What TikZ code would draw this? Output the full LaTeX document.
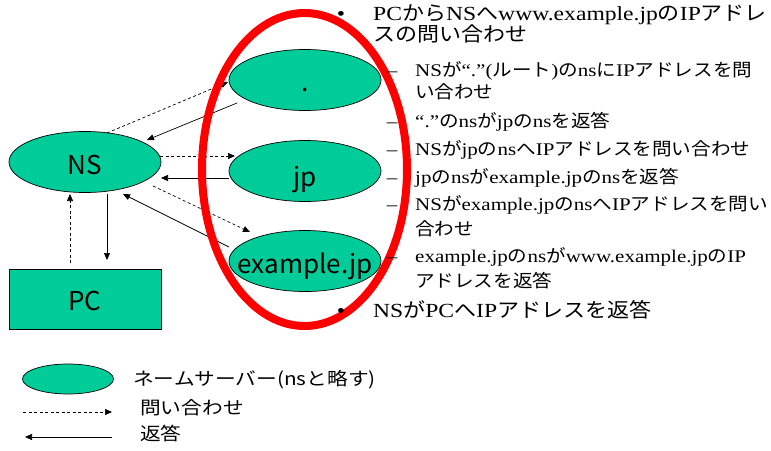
\documentclass[tikz,border=0pt]{standalone}
\usepackage{fontspec}
\setmainfont[FakeStretch=1.18]{Liberation Serif}
\newfontfamily\jpf[FakeStretch=1.1]{Noto Sans CJK JP}
\newfontfamily\lgf[FakeStretch=1.15]{Noto Sans CJK JP}
\newfontfamily\lblf{Noto Sans CJK JP}
\usetikzlibrary{arrows.meta,shapes.geometric}
\definecolor{nsgreen}{RGB}{0,204,153}
\newcommand\J[1]{{\jpf #1}}
\begin{document}
\begin{tikzpicture}[x=1pt,y=-1pt,
  srv/.style={ellipse, draw=black, line width=0.7pt, fill=nsgreen,
    minimum width=152pt, minimum height=61pt, inner sep=0pt},
  lbl/.style={anchor=base, inner sep=0pt, font=\lblf\fontsize{26}{30}\selectfont},
  ask/.style={draw, dash pattern=on 3pt off 2.5pt, line width=0.7pt,
    -{Triangle[length=7pt,width=6pt]}},
  ans/.style={draw, line width=0.7pt, -{Triangle[length=7pt,width=6pt]}},
  mainln/.style={anchor=base west, inner sep=0pt, text height=0.78em, text depth=0.1em,
    font=\fontsize{20}{24}\selectfont},
  subln/.style={anchor=base west, inner sep=0pt, text height=0.78em, text depth=0.1em,
    font=\fontsize{17.8}{21}\selectfont},
  bul/.style={anchor=base, inner sep=0pt, font=\fontsize{20}{24}\selectfont},
  dsh/.style={anchor=base, inner sep=0pt, font=\fontsize{17.8}{21}\selectfont},
  lgtxt/.style={anchor=base west, inner sep=0pt, font=\lgf\fontsize{18}{22}\selectfont}
]
\useasboundingbox (0,0) rectangle (771,450);

% servers
\node[srv] (ns) at (85,162) {};
\node[srv] (dot) at (305,80) {};
\node[srv] (jp) at (305,171) {};
\node[srv] (ex) at (305,261) {};
\node[draw=black, fill=nsgreen, line width=0.7pt, minimum width=152pt,
  minimum height=60pt, inner sep=0pt] (pc) at (85,299) {};

% connectors
\draw[ask] ([shift={(22,-29)}]ns.center) -- ([shift={(-77,2)}]dot.center);
\draw[ans] ([shift={(-68,23)}]dot.center) -- ([shift={(62,-22)}]ns.center);
\draw[ask] ([shift={(75,-6)}]ns.center) -- ([shift={(-70,-15)}]jp.center);
\draw[ans] ([shift={(-76,7)}]jp.center) -- ([shift={(76,16)}]ns.center);
\draw[ask] ([shift={(68,24)}]ns.center) -- ([shift={(-55,-29)}]ex.center);
\draw[ans] ([shift={(-76,-14)}]ex.center) -- ([shift={(38,32)}]ns.center);
\draw[ask] ([shift={(-15,-36)}]pc.center) -- ([shift={(-15,32)}]ns.center);
\draw[ans] ([shift={(22,32)}]ns.center) -- ([shift={(22,-39)}]pc.center);

% red grouping ellipse
\draw[red, line width=8pt] (304.5,169.5) ellipse [x radius=102.5, y radius=156.5];

% labels
\node[lbl] (nsT) at ([yshift=-12pt]ns.center) {NS};
\node[lbl] (dotT) at ([yshift=-11pt]dot.center) {.};
\node[lbl] (jpT) at ([yshift=-15pt]jp.center) {jp};
\node[lbl] (exT) at ([yshift=-12pt]ex.center) {example.jp};
\node[lbl] (pcT) at ([yshift=-11pt]pc.center) {PC};

% explanatory text
\node[bul] (b1) at (341,20) {•};
\node[mainln] (l1) at (373,20) {PC\J{から}NS\J{へ}www.example.jp\J{の}IP\J{アドレ}};
\node[mainln] (l2) at (373,41) {\J{スの問い合わせ}};
\node[dsh] (d1) at (392,76) {–};
\node[subln] (s1a) at (415,76) {NS\J{が}“.”(\J{ルート})\J{の}ns\J{に}IP\J{アドレスを問}};
\node[subln] (s1b) at (415,98) {\J{い合わせ}};
\node[dsh] (d2) at (392,127) {–};
\node[subln] (s2) at (415,127) {“.”\J{の}ns\J{が}jp\J{の}ns\J{を返答}};
\node[dsh] (d3) at (392,155) {–};
\node[subln] (s3) at (415,155) {NS\J{が}jp\J{の}ns\J{へ}IP\J{アドレスを問い合わせ}};
\node[dsh] (d4) at (392,183) {–};
\node[subln] (s4) at (415,183) {jp\J{の}ns\J{が}example.jp\J{の}ns\J{を返答}};
\node[dsh] (d5) at (392,210) {–};
\node[subln] (s5a) at (415,210) {NS\J{が}example.jp\J{の}ns\J{へ}IP\J{アドレスを問い}};
\node[subln] (s5b) at (415,235) {\J{合わせ}};
\node[dsh] (d6) at (392,262) {–};
\node[subln] (s6a) at (415,262) {example.jp\J{の}ns\J{が}www.example.jp\J{の}IP};
\node[subln] (s6b) at (415,287) {\J{アドレスを返答}};
\node[bul] (b2) at (341,317) {•};
\node[mainln] (l3) at (373,317) {NS\J{が}PC\J{へ}IP\J{アドレスを返答}};

% legend
\node[srv, minimum width=91pt, minimum height=30pt] (lg) at (68,379) {};
\node[lgtxt] (lgT) at (133,385.5) {ネームサーバー(nsと略す)};
\coordinate (q1) at (23,412);
\coordinate (q2) at (112,412);
\draw[ask] (q1) -- (q2);
\node[lgtxt] (qT) at (140,414) {問い合わせ};
\coordinate (r1) at (112,437);
\coordinate (r2) at (25,437);
\draw[ans] (r1) -- (r2);
\node[lgtxt] (rT) at (140,440) {返答};
\end{tikzpicture}
\end{document}
